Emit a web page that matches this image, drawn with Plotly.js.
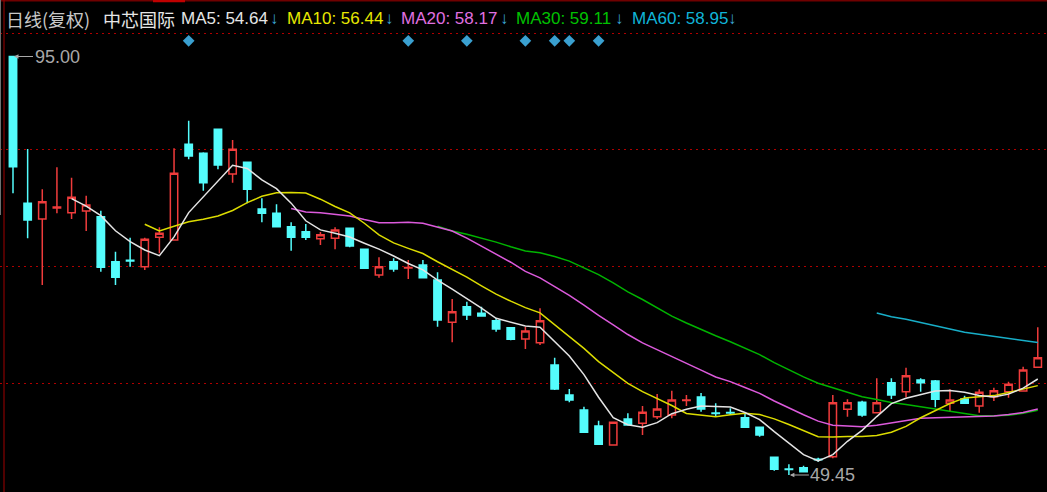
<!DOCTYPE html>
<html>
<head>
<meta charset="utf-8">
<script src="https://cdn.plot.ly/plotly-3.0.1.min.js"></script>
<style>
html,body{margin:0;padding:0;background:#000;overflow:hidden;}
#chart{width:1047px;height:492px;}
</style>
</head>
<body>
<div id="chart"></div>
<script>
// ---- data ----
const dates = [
 '2020-07-16','2020-07-17','2020-07-20','2020-07-21','2020-07-22','2020-07-23','2020-07-24','2020-07-27','2020-07-28','2020-07-29','2020-07-30','2020-07-31',
 '2020-08-03','2020-08-04','2020-08-05','2020-08-06','2020-08-07','2020-08-10','2020-08-11','2020-08-12','2020-08-13','2020-08-14','2020-08-17','2020-08-18','2020-08-19','2020-08-20','2020-08-21','2020-08-24','2020-08-25','2020-08-26','2020-08-27','2020-08-28','2020-08-31',
 '2020-09-01','2020-09-02','2020-09-03','2020-09-04','2020-09-07','2020-09-08','2020-09-09','2020-09-10','2020-09-11','2020-09-14','2020-09-15','2020-09-16','2020-09-17','2020-09-18','2020-09-21','2020-09-22','2020-09-23','2020-09-24','2020-09-25','2020-09-28','2020-09-29','2020-09-30',
 '2020-10-09','2020-10-12','2020-10-13','2020-10-14','2020-10-15','2020-10-16','2020-10-19','2020-10-20','2020-10-21','2020-10-22','2020-10-23','2020-10-26','2020-10-27','2020-10-28','2020-10-29','2020-10-30'
];
const opens = [95.00,79.02,77.31,78.51,78.00,78.18,77.56,72.67,72.82,72.12,75.32,75.03,
 85.44,84.46,87.08,82.21,83.48,78.40,77.93,76.48,75.93,75.17,75.21,76.30,74.02,71.22,72.67,71.98,72.31,70.67,66.07,67.77,67.05,
 66.24,65.48,64.25,63.85,61.42,58.16,56.53,54.78,52.72,55.55,55.08,55.80,55.98,57.57,57.94,56.20,56.25,55.69,54.64,51.38,50.10,50.25,
 51.16,51.44,56.60,57.36,56.23,59.50,58.52,59.79,59.68,57.25,57.72,56.96,57.97,58.52,58.59,61.17];
const highs = [95.00,84.93,80.55,82.94,81.81,79.85,78.22,73.75,75.28,75.28,76.41,85.01,
 88.01,84.57,87.15,85.91,83.55,79.57,78.91,76.95,76.77,75.90,76.41,76.35,74.05,73.14,73.04,72.85,72.85,71.51,68.61,68.31,67.77,
 66.51,65.52,65.59,67.59,62.22,58.81,56.88,55.36,55.22,56.17,56.96,58.27,58.63,58.16,58.38,57.25,56.71,56.30,54.70,51.42,50.62,50.46,
 51.33,58.16,57.69,57.54,59.97,59.97,61.13,59.97,59.79,58.78,58.08,58.78,58.95,59.60,61.24,65.53];
const lows = [80.11,75.21,70.13,77.93,77.31,76.01,71.58,70.13,72.12,71.76,73.58,74.95,
 83.81,80.39,82.72,81.26,79.02,76.95,76.45,73.86,75.03,74.48,74.02,74.23,71.92,70.92,71.58,70.78,70.90,65.59,63.89,66.32,66.74,
 65.05,64.11,63.16,63.60,58.70,57.36,54.07,52.76,52.64,54.86,53.80,55.55,55.62,56.96,56.34,55.80,55.98,54.62,53.62,49.92,49.45,49.78,
 50.90,51.27,55.80,55.80,56.20,57.72,57.91,58.52,56.82,56.34,57.22,56.23,57.50,57.86,58.55,61.15];
const closes = [83.01,77.20,79.20,78.62,79.68,78.84,72.06,70.97,72.74,75.10,75.76,82.29,
 84.17,81.26,83.19,84.90,80.55,77.93,76.48,75.32,75.32,75.60,76.12,74.37,71.95,72.12,71.87,72.03,70.92,66.32,67.22,66.86,66.76,
 65.34,64.22,65.12,66.24,58.81,57.61,54.10,52.79,55.19,54.89,56.27,56.63,57.61,57.62,56.63,56.15,56.20,54.64,53.80,50.07,50.05,49.81,
 51.12,57.32,57.32,55.98,57.32,58.16,60.26,59.50,57.69,57.61,57.25,58.45,58.63,59.32,60.88,62.22];

// moving-average lines (each ends on the last day)
const ma5 = [79.54,78.71,77.68,76.03,74.86,73.94,73.33,75.37,78.01,79.72,81.33,83.16,82.81,81.57,80.61,79.04,77.12,76.13,75.77,75.35,
 74.67,74.03,73.29,72.47,71.78,70.65,69.67,68.67,67.62,66.50,66.08,65.66,65.54,63.95,62.40,60.38,57.91,55.70,54.92,54.65,
 55.15,56.12,56.60,56.95,56.93,56.84,56.25,55.48,54.17,52.95,51.67,50.97,51.67,53.12,54.31,55.81,57.22,57.81,58.24,58.59,
 58.64,58.46,58.10,57.93,58.25,58.91,59.90];
const ma10 = [76.74,76.02,76.53,77.02,77.29,77.64,78.24,79.09,79.79,80.16,80.19,80.14,79.47,78.67,77.98,76.85,75.58,74.71,74.12,73.56,
 72.66,71.85,70.98,70.04,69.14,68.37,67.67,67.10,65.78,64.45,63.23,61.79,60.62,59.43,58.52,57.77,57.01,56.15,55.93,55.79,
 56.00,56.18,56.04,55.56,54.94,54.26,53.61,53.58,53.65,53.63,53.74,54.10,54.74,55.68,56.45,57.23,57.84,57.95,58.09,58.42,
 58.78,59.18];
const ma20 = [78.46,78.08,78.00,77.85,77.63,77.25,76.91,76.90,76.95,76.86,76.42,76.00,75.23,74.35,73.56,72.61,71.62,70.91,69.95,69.01,
 67.95,66.82,65.80,64.74,63.83,63.07,62.34,61.63,60.86,60.12,59.61,58.98,58.33,57.50,56.73,56.01,55.31,54.87,54.79,54.71,
 54.87,55.14,55.39,55.62,55.69,55.74,55.73,55.77,55.87,56.03,56.26,56.64];
const ma30 = [76.53,76.00,75.66,75.24,74.80,74.29,73.83,73.63,73.23,72.73,72.03,71.26,70.36,69.38,68.55,67.66,66.75,65.99,65.28,64.60,
 63.96,63.27,62.55,61.68,60.87,60.13,59.43,58.94,58.45,57.96,57.66,57.35,57.13,56.89,56.64,56.42,56.15,55.90,55.89,55.95,
 56.17,56.49];
const ma60 = [67.09,66.68,66.40,66.07,65.72,65.35,64.99,64.76,64.56,64.34,64.10,63.87];

// event (info) markers and labels
const eventDates = ['2020-08-03','2020-08-24','2020-08-28','2020-09-03','2020-09-07','2020-09-08','2020-09-10'];
const gridLevels = [59.46, 72.09, 84.93, 97.45];
const maxLabel = {date:'2020-07-16', price:95.00, text:'95.00'};
const minLabel = {date:'2020-09-29', price:49.45, text:'49.45'};
const headerItems = [
  {text:'日线(复权)', x:4, color:'#c8c8c8', cjk:true},
  {text:'中芯国际', x:101, color:'#e6e6e6', cjk:true},
  {text:'MA5: 54.64', x:179, color:'#e6e6e6'},
  {text:'↓', x:268, color:'#3aa6d6'},
  {text:'MA10: 56.44', x:285, color:'#e8e800'},
  {text:'↓', x:383, color:'#3aa6d6'},
  {text:'MA20: 58.17', x:399, color:'#e070e0'},
  {text:'↓', x:498, color:'#3aa6d6'},
  {text:'MA30: 59.11', x:514, color:'#00c000'},
  {text:'↓', x:613, color:'#3aa6d6'},
  {text:'MA60: 58.95', x:630, color:'#10b4d8'},
  {text:'↓', x:726, color:'#3aa6d6'}
];

// ---- drawing ----
const W = 1047, H = 492;
const LATIN = 'Liberation Sans, Arial, sans-serif';
const CJK = 'Noto Sans CJK SC, sans-serif';
const tail = arr => dates.slice(dates.length - arr.length);

const traces = [
  {
    type:'candlestick', x:dates, open:opens, high:highs, low:lows, close:closes,
    increasing:{line:{color:'#f03c3c', width:1.5}, fillcolor:'#000000'},
    decreasing:{line:{color:'#54fcfc', width:1.5}, fillcolor:'#54fcfc'},
    whiskerwidth:0, hoverinfo:'skip'
  },
  {type:'scatter', mode:'lines', x:tail(ma60), y:ma60, line:{color:'#18aec8', width:1.5}, hoverinfo:'skip'},
  {type:'scatter', mode:'lines', x:tail(ma30), y:ma30, line:{color:'#00b400', width:1.5}, hoverinfo:'skip'},
  {type:'scatter', mode:'lines', x:tail(ma20), y:ma20, line:{color:'#dc5adc', width:1.5}, hoverinfo:'skip'},
  {type:'scatter', mode:'lines', x:tail(ma10), y:ma10, line:{color:'#dcdc00', width:1.5}, hoverinfo:'skip'},
  {type:'scatter', mode:'lines', x:tail(ma5), y:ma5, line:{color:'#e4e4e4', width:1.5}, hoverinfo:'skip'},
  {type:'scatter', mode:'markers', x:eventDates, y:eventDates.map(() => 0.917), yaxis:'y2',
   marker:{symbol:'diamond', size:9, color:'#3aa0d0'}, hoverinfo:'skip'}
];

const annotations = headerItems.map(h => ({
  xref:'paper', yref:'paper', x:h.x / W, y:1 - 18.5 / H, xanchor:'left', yanchor:'middle',
  text:h.text, showarrow:false,
  font:{family:h.cjk ? CJK : LATIN, size:h.cjk ? 18 : 17, color:h.color}
}));
[maxLabel, minLabel].forEach(m => annotations.push({
  x:m.date, y:m.price, xref:'x', yref:'y', text:m.text,
  showarrow:true, ax:44, ay:0, arrowhead:2, arrowsize:0.9, arrowwidth:1, arrowcolor:'#a8a8a8', standoff:1,
  font:{family:LATIN, size:18, color:'#a8a8a8'}
}));

const shapes = [
  // top border strip
  {type:'line', xref:'paper', yref:'paper', x0:0, x1:1, y0:1 - 0.8 / H, y1:1 - 0.8 / H, line:{color:'#700000', width:1.6}},
  {type:'line', xref:'paper', yref:'paper', x0:153 / W, x1:185 / W, y0:1 - 1 / H, y1:1 - 1 / H, line:{color:'#c00000', width:2.5}},
  // left border
  {type:'line', xref:'paper', yref:'paper', x0:0.5 / W, x1:0.5 / W, y0:1, y1:1 - 215 / H, line:{color:'#707070', width:1}},
  {type:'line', xref:'paper', yref:'paper', x0:4 / W, x1:4 / W, y0:0, y1:1, line:{color:'#a00000', width:1}}
];

const layout = {
  width:W, height:H, margin:{l:0, r:0, t:0, b:0, pad:0},
  paper_bgcolor:'#000000', plot_bgcolor:'#000000', showlegend:false,
  boxgap:0.28,
  xaxis:{type:'category', range:[-0.888, 70.63], showgrid:false, showticklabels:false, zeroline:false,
         showline:false, ticks:'', rangeslider:{visible:false}, fixedrange:true},
  yaxis:{range:[47.60, 101.15], tickvals:gridLevels, showticklabels:false, ticks:'', zeroline:false, showline:false,
         showgrid:true, gridcolor:'#b00000', gridwidth:1, griddash:'2px,4px', fixedrange:true},
  yaxis2:{overlaying:'y', range:[0, 1], visible:false, fixedrange:true},
  annotations:annotations, shapes:shapes, hovermode:false
};

Plotly.newPlot('chart', traces, layout, {displayModeBar:false, staticPlot:true});
</script>
</body>
</html>
